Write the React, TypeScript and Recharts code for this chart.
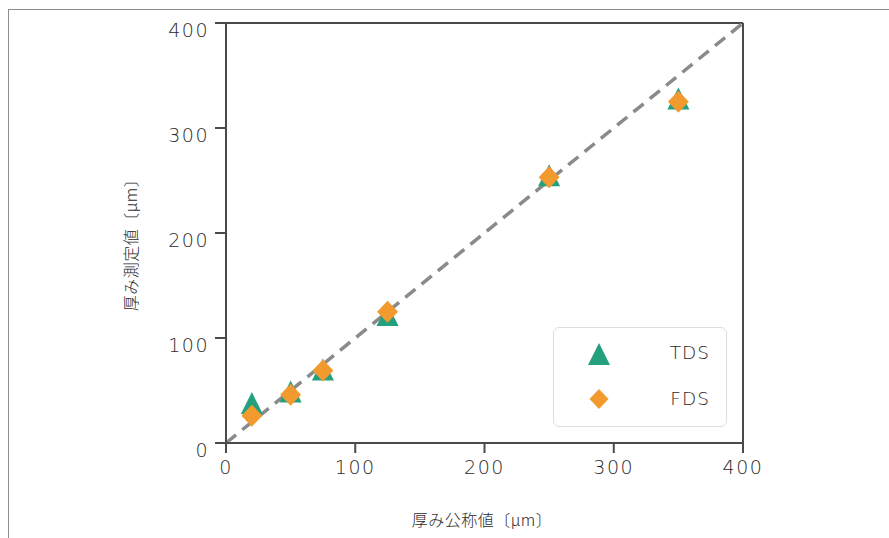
import React from 'react';
import { ScatterChart, Scatter, XAxis, YAxis, ReferenceLine, Legend, Label } from 'recharts';

// ---- data ----
const nominal = [20, 50, 75, 125, 250, 350];
const tdsValues = [38, 49, 70, 122, 255, 328];
const fdsValues = [26, 46, 69, 125, 253, 325];
const axisTicks = [0, 100, 200, 300, 400];
const seriesNames = ['TDS', 'FDS'];
const seriesColors = ['#25a07e', '#f29a2e'];
const xTitle = '厚み公称値〔µm〕';
const yTitle = '厚み測定値〔µm〕';
const identityLine = [
  { x: 0, y: 0 },
  { x: 400, y: 400 },
];

const tdsData = nominal.map((x, i) => ({ x, y: tdsValues[i] }));
const fdsData = nominal.map((x, i) => ({ x, y: fdsValues[i] }));

const NUM_FONT = '"DejaVu Sans", sans-serif';
const JP_FONT = '"Noto Sans CJK JP", sans-serif';
const AXIS_COLOR = '#4a4a4a';
const TEXT_COLOR = '#2a2a2a';

const trianglePts = (cx: number, cy: number, r: number) =>
  `${cx},${cy - r} ${cx - r},${cy + r} ${cx + r},${cy + r}`;
const diamondPts = (cx: number, cy: number, r: number) =>
  `${cx},${cy - r} ${cx + r * 0.95},${cy} ${cx},${cy + r} ${cx - r * 0.95},${cy}`;

const TriangleShape = (props: any) => {
  const { cx, cy, fill } = props;
  if (cx == null || cy == null) return null;
  return <polygon points={trianglePts(cx, cy, 11)} fill={fill} />;
};
const DiamondShape = (props: any) => {
  const { cx, cy, fill } = props;
  if (cx == null || cy == null) return null;
  return <polygon points={diamondPts(cx, cy, 11)} fill={fill} />;
};

const XTick = (props: any) => {
  const { x, y, payload } = props;
  return (
    <text
      x={x}
      y={y + 14}
      textAnchor="middle"
      dominantBaseline="central"
      fontFamily={NUM_FONT}
      fontWeight={300}
      fontSize={19}
      letterSpacing={1.5}
      fill={TEXT_COLOR}
    >
      {payload.value}
    </text>
  );
};

const YTick = (props: any) => {
  const { x, y, payload } = props;
  return (
    <text
      x={x + 1}
      y={y + 7}
      textAnchor="end"
      dominantBaseline="central"
      fontFamily={NUM_FONT}
      fontWeight={300}
      fontSize={19}
      letterSpacing={1.5}
      fill={TEXT_COLOR}
    >
      {payload.value}
    </text>
  );
};

const renderLegend = (props: any) => {
  const payload = [...(props.payload || [])].sort(
    (a: any, b: any) => seriesNames.indexOf(a.value) - seriesNames.indexOf(b.value)
  );
  return (
    <div
      style={{
        width: 174,
        height: 100,
        boxSizing: 'border-box',
        border: '1.5px solid #dedede',
        borderRadius: 6,
        background: '#fff',
        position: 'relative',
      }}
    >
      {payload.map((entry: any, i: number) => (
        <div
          key={entry.value}
          style={{ position: 'absolute', left: 0, top: 10 + i * 46, width: '100%', height: 30 }}
        >
          <svg width={30} height={30} style={{ position: 'absolute', left: 30, top: 0 }}>
            {entry.type === 'triangle' ? (
              <polygon points={trianglePts(15, 16, 11)} fill={entry.color} />
            ) : (
              <polygon points={diamondPts(15, 15, 10)} fill={entry.color} />
            )}
          </svg>
          <span
            style={{
              position: 'absolute',
              right: 16,
              top: 0,
              lineHeight: '30px',
              fontFamily: NUM_FONT,
              fontWeight: 300,
              fontSize: 18.5,
              letterSpacing: 1,
              color: TEXT_COLOR,
            }}
          >
            {entry.value}
          </span>
        </div>
      ))}
    </div>
  );
};

export default function App() {
  return (
    <div style={{ position: 'absolute', left: 0, top: 0, width: 889, height: 538, background: '#fff' }}>
      <div
        style={{
          position: 'absolute',
          left: 8,
          top: 9,
          right: 0,
          bottom: 0,
          borderTop: '1.5px solid #8c8c8c',
          borderLeft: '1.5px solid #8c8c8c',
        }}
      />
      <div style={{ position: 'absolute', left: 0, top: 0 }}>
        <ScatterChart width={889} height={538} margin={{ top: 23, right: 146, bottom: 55, left: 34 }}>
          <XAxis
            type="number"
            dataKey="x"
            domain={[0, 400]}
            ticks={axisTicks}
            height={40}
            tickSize={10}
            tickMargin={0}
            stroke={AXIS_COLOR}
            strokeWidth={2}
            tick={<XTick />}
            allowDataOverflow
          >
            <Label
              content={() => (
                <text
                  x={482}
                  y={519}
                  textAnchor="middle"
                  dominantBaseline="central"
                  fontFamily={JP_FONT}
                  fontWeight={300}
                  fontSize={16}
                  letterSpacing={0.5}
                  fill={TEXT_COLOR}
                >
                  {xTitle}
                </text>
              )}
            />
          </XAxis>
          <YAxis
            type="number"
            dataKey="y"
            domain={[0, 400]}
            ticks={axisTicks}
            width={192}
            tickSize={11}
            tickMargin={7}
            stroke={AXIS_COLOR}
            strokeWidth={2}
            tick={<YTick />}
            allowDataOverflow
          >
            <Label
              content={() => (
                <text
                  x={130}
                  y={241}
                  transform="rotate(-90 130 241)"
                  textAnchor="middle"
                  dominantBaseline="central"
                  fontFamily={JP_FONT}
                  fontWeight={300}
                  fontSize={16}
                  letterSpacing={0.5}
                  fill={TEXT_COLOR}
                >
                  {yTitle}
                </text>
              )}
            />
          </YAxis>
          <ReferenceLine y={400} stroke={AXIS_COLOR} strokeWidth={2} />
          <ReferenceLine x={400} stroke={AXIS_COLOR} strokeWidth={2} />
          <ReferenceLine
            segment={identityLine}
            stroke="#8a8a8a"
            strokeWidth={3.5}
            strokeDasharray="13 8"
          />
          <Scatter
            name={seriesNames[0]}
            data={tdsData}
            fill={seriesColors[0]}
            shape={<TriangleShape />}
            legendType="triangle"
            isAnimationActive={false}
          />
          <Scatter
            name={seriesNames[1]}
            data={fdsData}
            fill={seriesColors[1]}
            shape={<DiamondShape />}
            legendType="diamond"
            isAnimationActive={false}
          />
          <Legend
            layout="horizontal"
            verticalAlign="middle"
            align="center"
            content={renderLegend}
            wrapperStyle={{ left: 553, top: 327, width: 174, height: 100 }}
          />
        </ScatterChart>
      </div>
    </div>
  );
}
